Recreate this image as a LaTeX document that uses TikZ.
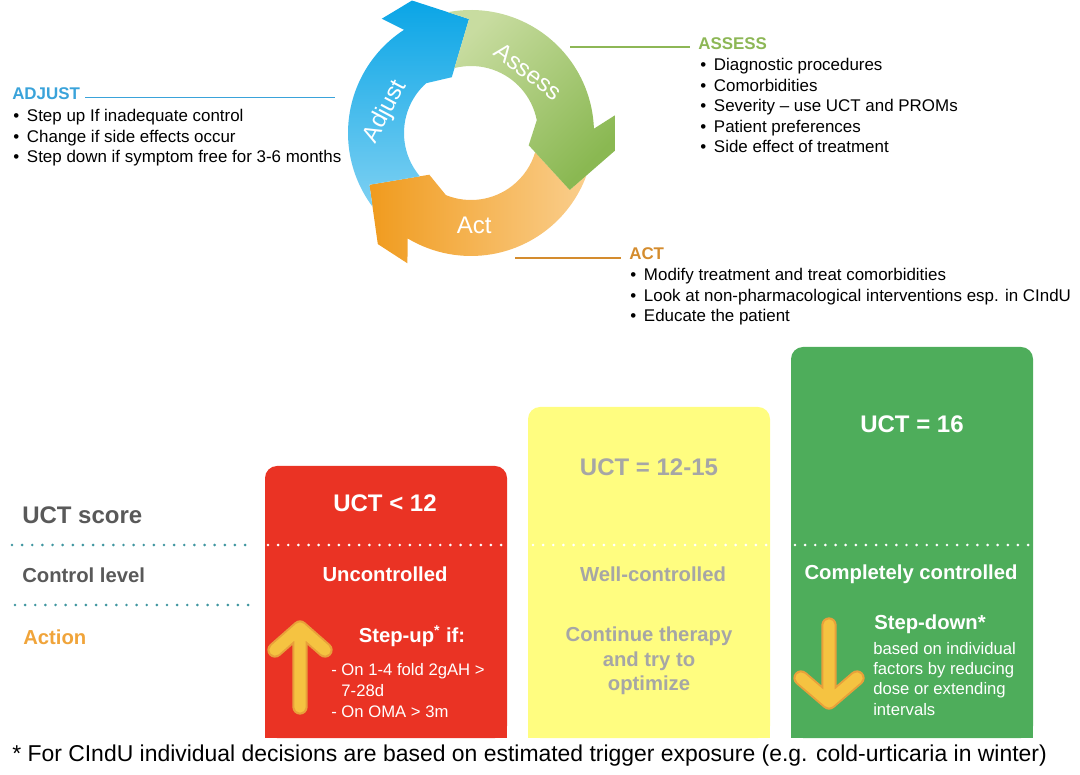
\documentclass[tikz,border=0pt]{standalone}
\usepackage{fontspec}
\setmainfont{Liberation Sans}

\definecolor{adjustc}{RGB}{58,163,218}
\definecolor{assessc}{RGB}{141,183,86}
\definecolor{actc}{RGB}{212,140,46}
\definecolor{adjustdark}{RGB}{10,165,230}
\definecolor{adjustlight}{RGB}{125,208,242}
\definecolor{assesslight}{RGB}{200,220,160}
\definecolor{assessdark}{RGB}{138,184,82}
\definecolor{actdark}{RGB}{240,155,30}
\definecolor{actlight}{RGB}{250,206,140}
\definecolor{uctred}{RGB}{234,51,36}
\definecolor{uctyellow}{RGB}{255,253,128}
\definecolor{uctgreen}{RGB}{78,173,91}
\definecolor{boxgray}{RGB}{166,166,166}
\definecolor{labelgray}{RGB}{89,89,89}
\definecolor{actionc}{RGB}{240,164,58}
\definecolor{dotteal}{RGB}{64,150,160}
\definecolor{stepfill}{RGB}{245,195,65}
\definecolor{stepedge}{RGB}{232,160,58}

% one arrow of the cycle: #1 look, #2 turn of its head, #3 turn of the head before it
\newcommand{\cyclearrow}[3]{%
  \path[#1] ({216.8+#3}:123) arc[start angle={216.8+#3}, end angle={239+#2}, radius=123]
    -- ({244+#2}:145) -- ({230+#2}:145) -- ({207+#2}:114) -- ({225+#2}:59) -- ({248+#2}:67)
    arc[start angle={248+#2}, end angle={220.3+#3}, radius=67] -- ({207+#3}:114) -- cycle;}
\newcommand{\blt}{\makebox[10.3pt][l]{\textbullet}}

\tikzset{
  head/.style={anchor=west, inner sep=0pt, font=\bfseries\fontsize{12.7}{15}\selectfont},
  blist/.style={anchor=north west, inner sep=0pt, align=left, font=\fontsize{12.7}{15.4}\selectfont},
  cyclelbl/.style={text=white, inner sep=0pt, font=\fontsize{18}{20}\selectfont},
  score/.style={inner sep=0pt, font=\bfseries\fontsize{18}{20}\selectfont},
  level/.style={inner sep=0pt, font=\bfseries\fontsize{15.2}{18.4}\selectfont},
  small list/.style={anchor=north west, inner sep=0pt, align=left, text=white},
  dots/.style={line width=2.2pt, line cap=round, dash pattern=on 0pt off 7.6pt},
  underline/.style={line width=1.1pt, line cap=butt}
}

\begin{document}
\begin{tikzpicture}[x=0.75pt,y=0.75pt,line cap=round,line join=round]
  \useasboundingbox (0,0) rectangle (1080,774);

  % the cycle
  \begin{scope}[shift={(471,641)}]
    \cyclearrow{shade, left color=actdark, right color=actlight}{0}{123}
    \cyclearrow{shade, top color=adjustdark, bottom color=adjustlight}{-116}{0}
    \cyclearrow{shade, left color=assesslight, right color=assessdark, shading angle=45}{123}{244}
    \node[cyclelbl, rotate=62] (adjustlbl) at (166:88) {Adjust};
    \node[cyclelbl, rotate=-37] (assesslbl) at (47:84) {Assess};
    \node[cyclelbl] (actlbl) at (272:92) {Act};
  \end{scope}

  % ADJUST
  \node[head, text=adjustc] (adjusthead) at (12,680) {ADJUST};
  \node[blist] (adjustlist) at (13,665) {\blt Step up If inadequate control\\
    \blt Change if side effects occur\\ \blt Step down if symptom free for 3-6 months};
  \coordinate (adjustend) at (335,676.5);
  \draw[underline, adjustc] ([xshift=3.75pt]adjusthead.east |- adjustend) -- (adjustend);

  % ASSESS
  \node[head, text=assessc] (assesshead) at (698,730) {ASSESS};
  \node[blist] (assesslist) at (700,716) {\blt Diagnostic procedures\\ \blt Comorbidities\\
    \blt Severity -- use UCT and PROMs\\ \blt Patient preferences\\ \blt Side effect of treatment};
  \coordinate (assessend) at (570,727);
  \draw[underline, assessc] (assessend) -- ([xshift=-6pt]assesshead.west |- assessend);

  % ACT
  \node[head, text=actc] (acthead) at (629,520) {ACT};
  \node[blist] (actlist) at (630,506) {\blt Modify treatment and treat comorbidities\\
    \blt Look at non-pharmacological interventions esp. in CIndU\\ \blt Educate the patient};
  \coordinate (actend) at (515,516);
  \draw[underline, actc] (actend) -- ([xshift=-6pt]acthead.west |- actend);

  % the three boxes
  \fill[uctred, rounded corners=9pt] (265,36) rectangle (507,308);
  \fill[uctred] (265,36) rectangle (507,100);
  \fill[uctyellow, rounded corners=9pt] (528,36) rectangle (770,367);
  \fill[uctyellow] (528,36) rectangle (770,100);
  \fill[uctgreen, rounded corners=9pt] (791,36) rectangle (1033,427);
  \fill[uctgreen] (791,36) rectangle (1033,100);

  % row separators
  \draw[dots, dotteal] (12,229) -- (252,229);
  \draw[dots, dotteal] (15,169) -- (258,169);
  \foreach \a/\b in {268/505, 533/767, 795/1030}
    \draw[dots, white] (\a,229) -- (\b,229);

  % row labels
  \node[score, anchor=west, text=labelgray] (scorelbl) at (22,259) {UCT score};
  \node[level, anchor=west, text=labelgray] (controllbl) at (22,199) {Control level};
  \node[level, anchor=west, text=actionc] (actionlbl) at (23,137) {Action};

  % uncontrolled
  \node[score, text=white] (redscore) at (385,271) {UCT < 12};
  \node[level, text=white] (redlevel) at (385,200) {Uncontrolled};
  \node[level, text=white] (redstep) at (412,138) {Step-up\textsuperscript{*} if:};
  \node[small list, font=\fontsize{12.5}{15.75}\selectfont] (redlist) at (331,111)
    {- On 1-4 fold 2gAH >\\\phantom{-} 7-28d\\- On OMA > 3m};
  \draw[stepedge, line width=11.5pt] (300,67) -- (300,146) (275,124) -- (300,146) -- (325,124);
  \draw[stepfill, line width=8.5pt] (300,67) -- (300,146) (275,124) -- (300,146) -- (325,124);

  % well-controlled
  \node[score, text=boxgray] (yellowscore) at (649,307) {UCT = 12-15};
  \node[level, text=boxgray] (yellowlevel) at (653,200) {Well-controlled};
  \node[level, text=boxgray, align=center] (yellowaction) at (649,113)
    {Continue therapy\\and try to\\optimize};

  % completely controlled
  \node[score, text=white] (greenscore) at (912,350) {UCT = 16};
  \node[level, text=white] (greenlevel) at (911,200) {Completely controlled};
  \node[level, text=white] (greenstep) at (930,150) {Step-down*};
  \node[small list, font=\fontsize{12.5}{15.2}\selectfont] (greenlist) at (873,132)
    {based on individual\\factors by reducing\\dose or extending\\intervals};
  \draw[stepedge, line width=11.5pt] (829,149) -- (829,72) (801,96) -- (829,72) -- (857,96);
  \draw[stepfill, line width=8.5pt] (829,149) -- (829,72) (801,96) -- (829,72) -- (857,96);

  \node[anchor=west, inner sep=0pt, font=\fontsize{17.2}{19}\selectfont] (footnote) at (12,18)
    {* For CIndU individual decisions are based on estimated trigger exposure (e.g. cold-urticaria in winter)};
\end{tikzpicture}
\end{document}
